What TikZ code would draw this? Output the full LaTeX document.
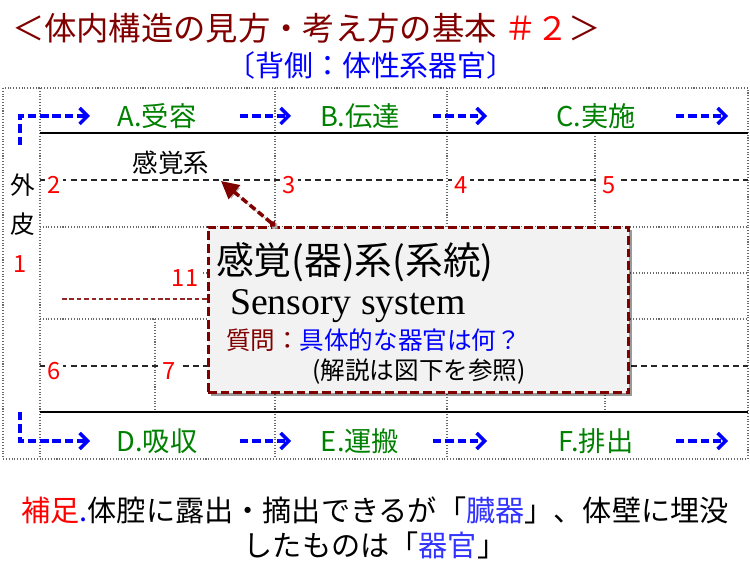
\documentclass[tikz,border=0pt]{standalone}
\usepackage{fontspec}
\setmainfont{Noto Sans CJK JP}
\newfontfamily\serifLatin{Liberation Serif}
\usetikzlibrary{positioning, calc, arrows.meta, shadows}
\definecolor{clDarkRed} {RGB}{128,  0,  0}
\definecolor{clRed}     {RGB}{255,  0,  0}
\definecolor{clBlue}    {RGB}{  0,  0,255}
\definecolor{clSoftBlue}{RGB}{ 51, 51,255}
\definecolor{clGreen}   {RGB}{  0,128,  0}
\definecolor{clGrid}    {RGB}{105,105,105}
\definecolor{clBox}     {RGB}{242,242,242}
\tikzset{
  base/.style={
    inner sep=0pt, outer sep=0pt
  },
  headline/.style={
    base, font=\fontsize{18.4}{22}\selectfont, text=clDarkRed
  },
  subheadline/.style={
    base, font=\fontsize{16.5}{19}\selectfont, text=clBlue
  },
  phase/.style={
    base, font=\fontsize{15.5}{18}\selectfont, text=clGreen
  },
  sysname/.style={
    base, font=\fontsize{14.5}{22.1}\selectfont
  },
  cellnum/.style={
    font=\fontsize{13.5}{16}\selectfont, text=clRed,
    fill=white, inner sep=1.2pt
  },
  gridline/.style={
    densely dotted, line width=0.6pt, color=clGrid
  },
  ruleline/.style={
    line width=1pt, color=black
  },
  subline/.style={
    dash pattern=on 3.4pt off 2.4pt, line width=0.7pt, color=black!85
  },
  flow/.style={
    -{Straight Barb[length=4.5pt, width=9pt]},
    line width=2pt, dash pattern=on 4.8pt off 2.2pt, color=clBlue
  },
  infobox/.style={
    draw=clDarkRed, fill=clBox, line width=1.7pt,
    dash pattern=on 5pt off 2.2pt,
    minimum width=8.42cm, minimum height=3.32cm, inner sep=0pt,
    drop shadow={shadow xshift=1.6pt, shadow yshift=-1.6pt, opacity=0.4, fill=black}
  },
  pointer/.style={
    {Circle[length=3.5pt]}-{Triangle[length=10pt, width=10pt]},
    line width=2pt, dash pattern=on 4pt off 2pt, color=clDarkRed,
    preaction={draw=black!30, transform canvas={xshift=1.2pt, yshift=-1.2pt}}
  }
}

\begin{document}
\begin{tikzpicture}[x=0.02cm, y=-0.02cm]
  \useasboundingbox (0,0) rectangle (750,563);

    % ============================================================
    % HEADINGS
    % ============================================================
    \node (heading) [headline, anchor=west] at (12,28)
      {＜体内構造の見方・考え方の基本 \textcolor{clRed}{＃２}＞};
    \node (subheading) [subheadline] at (371,65) {〔背側：体性系器官〕};

    % ============================================================
    % TABLE FRAME
    % ============================================================
    \draw [gridline] (3,88) rectangle (748,459);
    \draw [gridline] (40,88) -- (40,459);
    \draw [gridline] (275,88) -- (275,459);
    \draw [gridline] (447,88) -- (447,459);
    \draw [gridline] (595,133) -- (595,227);
    \draw [gridline] (155,319) -- (155,412);
    \draw [gridline] (605,319) -- (605,412);
    \draw [gridline] (40,227) -- (748,227);
    \draw [gridline] (203,273) -- (748,273);
    \draw [gridline] (40,319) -- (748,319);
    \draw [ruleline] (40,133) -- (748,133);
    \draw [ruleline] (40,412) -- (748,412);
    \draw [subline] (40,180) -- (748,180);
    \draw [subline] (40,366) -- (748,366);
    \draw [subline, color=clDarkRed!85, line width=0.6pt, dash pattern=on 2.6pt off 1.6pt] (62,299) -- (300,299);

    % ============================================================
    % PHASE LABELS AND FLOW ARROWS
    % ============================================================
    \node (recv) [phase] at (157,116) {A.受容};
    \node (pass) [phase] at (360,116) {B.伝達};
    \node (exec) [phase] at (596,116) {C.実施};
    \node (absb) [phase] at (157,441) {D.吸収};
    \node (carry)[phase] at (360,441) {E.運搬};
    \node (excr) [phase] at (596,441) {F.排出};

    \coordinate (topIn)  at (20,145);  \coordinate (topA)   at (90,116);
    \coordinate (topAB1) at (240,116); \coordinate (topAB2) at (291,116);
    \coordinate (topBC1) at (433,116); \coordinate (topBC2) at (487,116);
    \coordinate (topC1)  at (676,116); \coordinate (topC2)  at (728,116);
    \coordinate (botIn)  at (20,412);  \coordinate (botD)   at (90,441);
    \coordinate (botDE1) at (240,441); \coordinate (botDE2) at (291,441);
    \coordinate (botEF1) at (433,441); \coordinate (botEF2) at (487,441);
    \coordinate (botF1)  at (676,441); \coordinate (botF2)  at (728,441);

    \draw [flow] (topIn) |- (topA);
    \draw [flow] (topAB1) -- (topAB2);
    \draw [flow] (topBC1) -- (topBC2);
    \draw [flow] (topC1) -- (topC2);
    \draw [flow] (botIn) |- (botD);
    \draw [flow] (botDE1) -- (botDE2);
    \draw [flow] (botEF1) -- (botEF2);
    \draw [flow] (botF1) -- (botF2);

    % ============================================================
    % CELL TEXTS AND NUMBERS
    % ============================================================
    \node (skin) [sysname, align=center, font=\fontsize{14}{22.1}\selectfont] at (23,205) {外\\皮};
    \node (sense) [sysname] at (171,163) {感覚系};
    \node (n1)  [cellnum] at (20,264) {1};
    \node (n2)  [cellnum] at (54,185) {2};
    \node (n3)  [cellnum] at (289,185) {3};
    \node (n4)  [cellnum] at (461,185) {4};
    \node (n5)  [cellnum] at (609,185) {5};
    \node (n6)  [cellnum] at (54,371) {6};
    \node (n7)  [cellnum] at (169,371) {7};
    \node (n11) [cellnum] at (185,278) {11};

    % ============================================================
    % CALLOUT
    % ============================================================
    \node (callout) [infobox] at (418.5,310) {};
    \node (calloutHead) [base, anchor=west, font=\fontsize{21.5}{24}\selectfont] at (216,262)
      {感覚(器)系(系統)};
    \node (calloutEn) [base, anchor=base west, font=\serifLatin\fontsize{21.5}{24}\selectfont] at (230,315)
      {Sensory system};
    \node (calloutAsk) [base, anchor=west, font=\fontsize{14}{17}\selectfont] at (226,340)
      {\textcolor{clDarkRed}{質問：}\textcolor{clBlue}{具体的な器官は何？}};
    \node (calloutRef) [base, font=\fontsize{14}{17}\selectfont] at (419,372)
      {(解説は図下を参照)};

    \coordinate (calloutFoot) at (275,226);
    \coordinate (senseTip) at (221,181);
    \draw [pointer] (calloutFoot) -- (senseTip);

    % ============================================================
    % REMARK
    % ============================================================
    \node (remark) [base, align=center, font=\fontsize{16.6}{19.8}\selectfont] at (375,528)
      {\textcolor{clRed}{補足}\textcolor{clBlue}{.}体腔に露出・摘出できるが「\textcolor{clSoftBlue}{臓器}」、体壁に埋没\\
       したものは「\textcolor{clSoftBlue}{器官}」};

\end{tikzpicture}
\end{document}
